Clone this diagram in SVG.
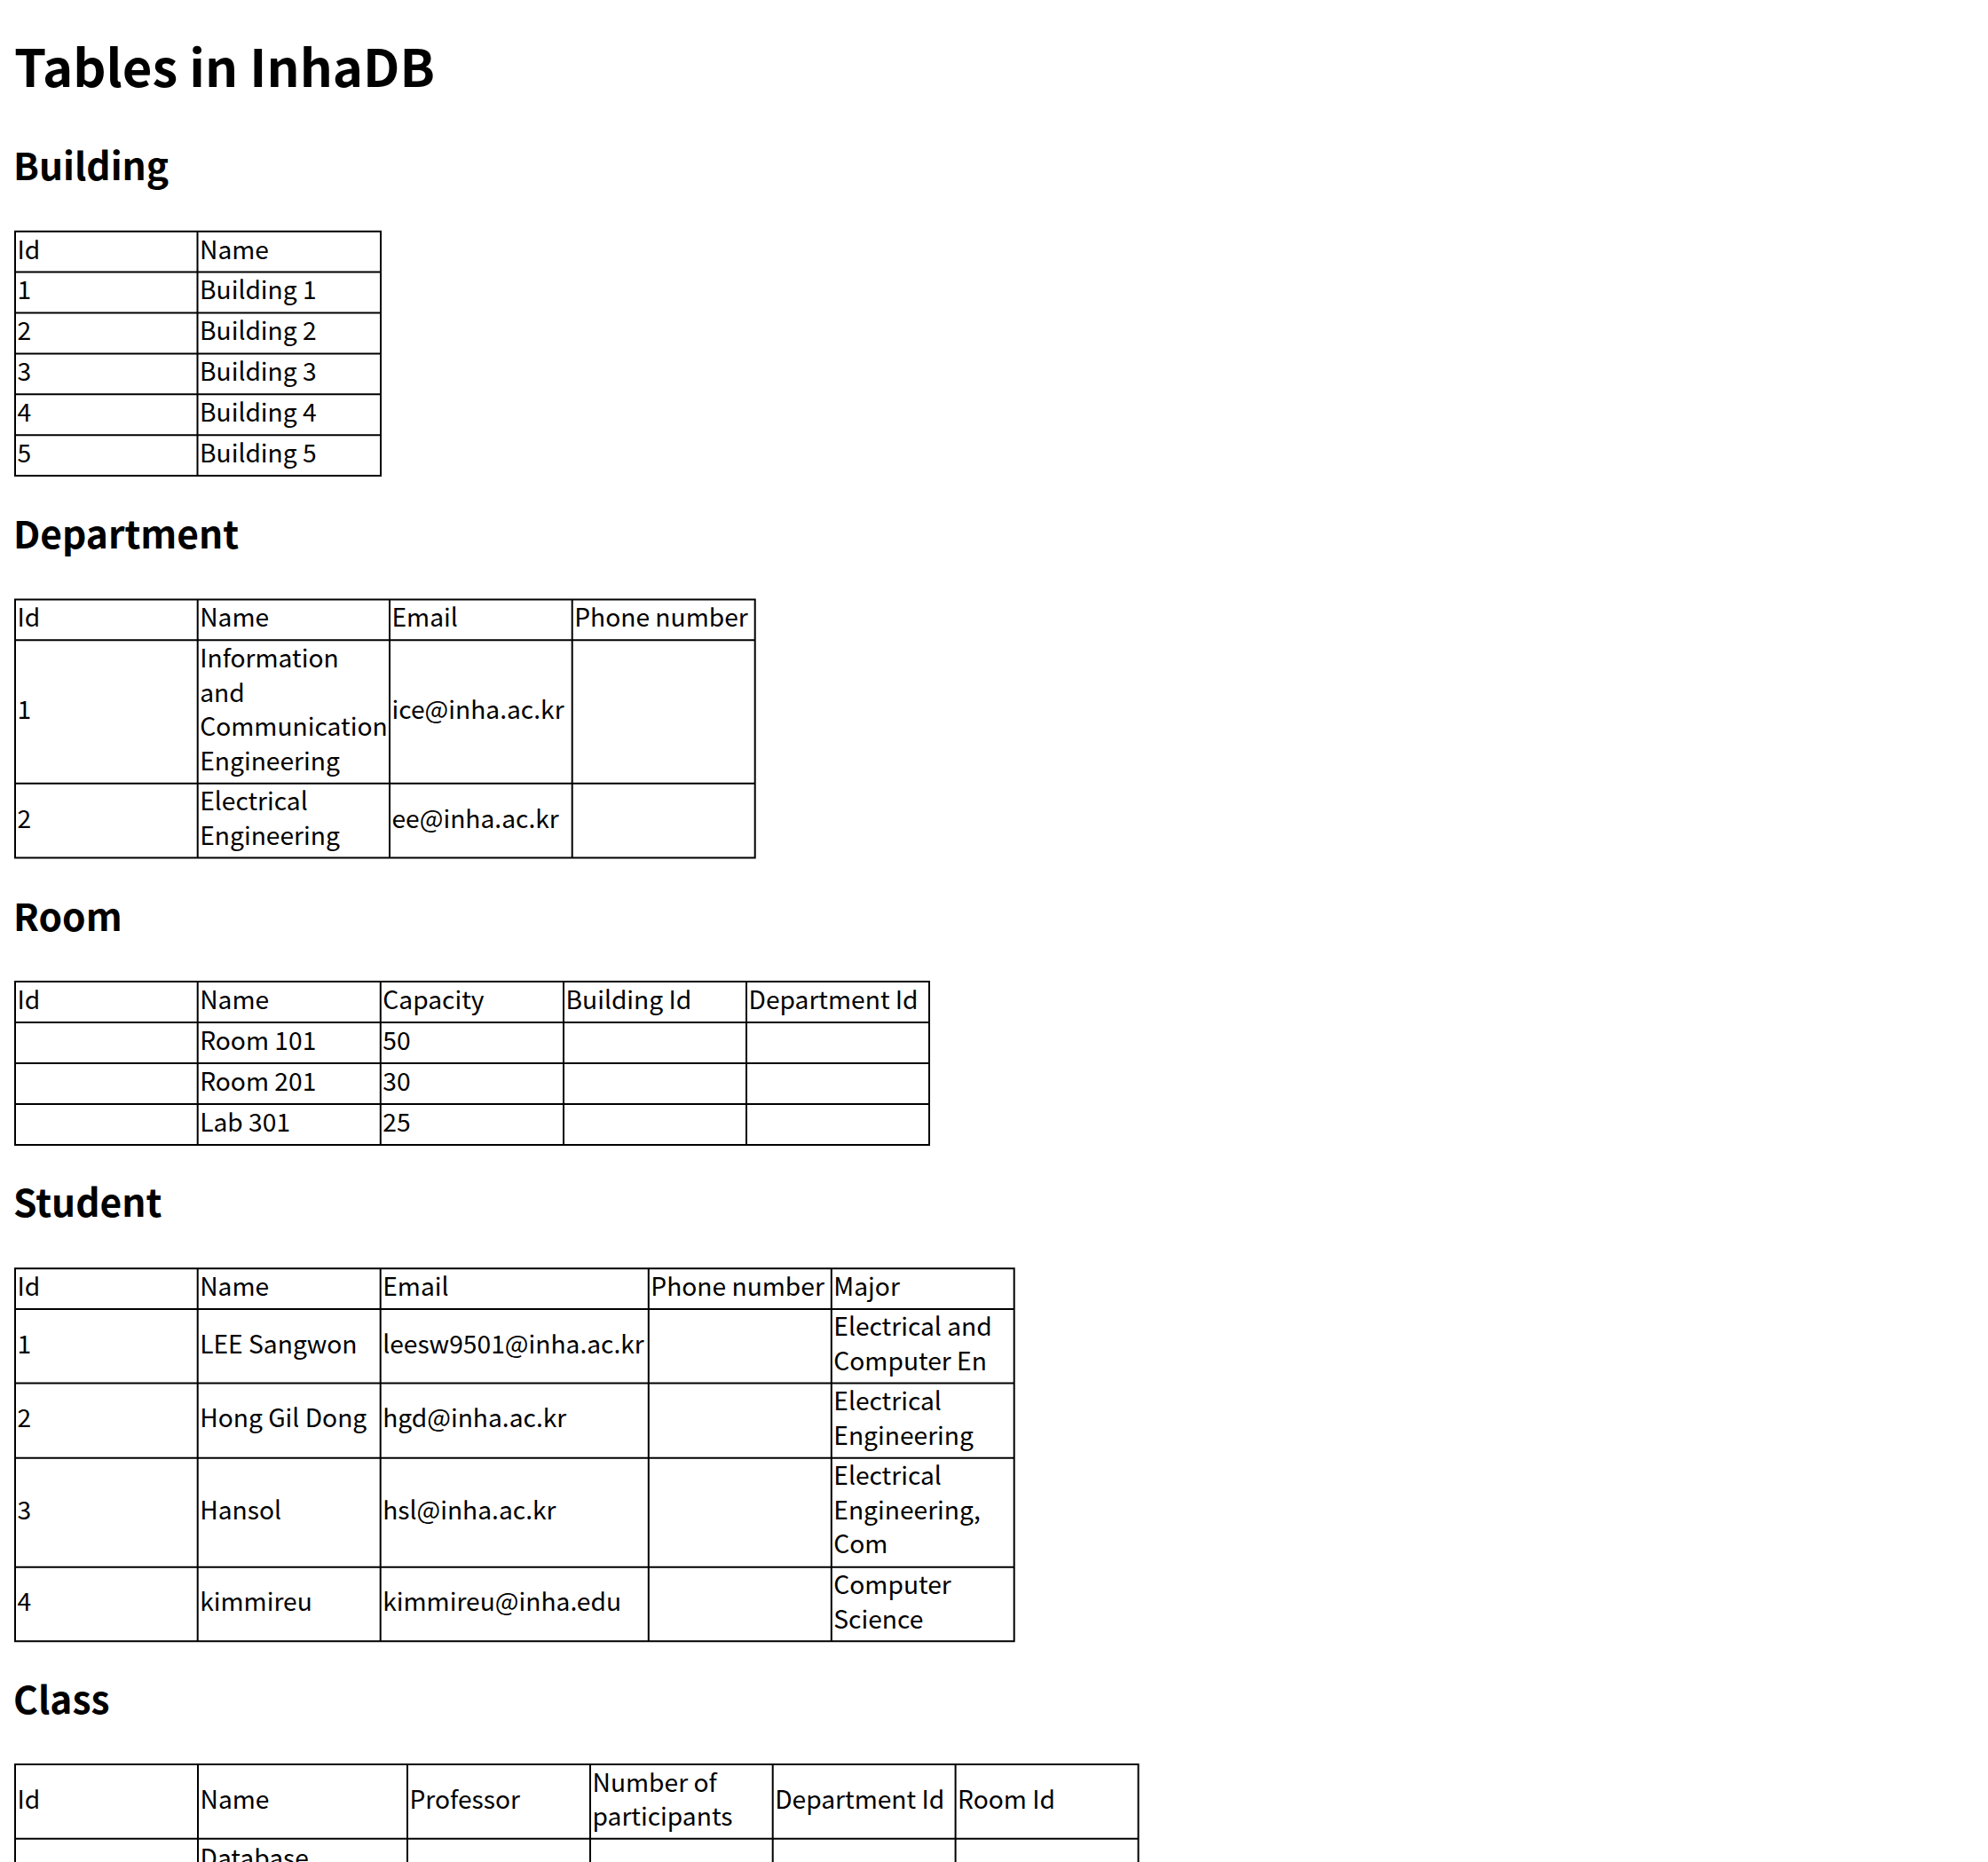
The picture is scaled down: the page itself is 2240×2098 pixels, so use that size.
<svg xmlns="http://www.w3.org/2000/svg" width="2240" height="2098" viewBox="0 0 2240 2098">
<style>
text{font-family:"Noto Sans CJK KR","Noto Sans",sans-serif;fill:#000}
.h1{font-size:58px;font-weight:700}
.h2{font-size:42.5px;font-weight:700}
.c{font-size:28.2px;font-weight:400}
.g{stroke:#000;stroke-width:2;fill:none}
</style>
<rect x="0" y="0" width="2240" height="2098" fill="#fff"/>
<text class="h1" x="16" y="98">Tables in InhaDB</text>

<g id="tbl-building">
<text class="h2" x="15" y="203">Building</text>
<path class="g" d="M17 260.7H429V536.1H17Z M17 306.6H429 M17 352.5H429 M17 398.4H429 M17 444.3H429 M17 490.2H429 M222.5 260.7V536.1"/>
<text class="c" x="19.5" y="291.5">Id</text><text class="c" x="225" y="291.5">Name</text>
<text class="c" x="19.5" y="337.4">1</text><text class="c" x="225" y="337.4">Building 1</text>
<text class="c" x="19.5" y="383.3">2</text><text class="c" x="225" y="383.3">Building 2</text>
<text class="c" x="19.5" y="429.2">3</text><text class="c" x="225" y="429.2">Building 3</text>
<text class="c" x="19.5" y="475.1">4</text><text class="c" x="225" y="475.1">Building 4</text>
<text class="c" x="19.5" y="521">5</text><text class="c" x="225" y="521">Building 5</text>
</g>

<g id="tbl-department">
<text class="h2" x="15" y="618">Department</text>
<path class="g" d="M17 675.6H850.7V966.6H17Z M17 721.3H850.7 M17 882.8H850.7 M222.7 675.6V966.6 M439 675.6V966.6 M644.7 675.6V966.6"/>
<text class="c" x="19.5" y="706.4">Id</text><text class="c" x="225.2" y="706.4">Name</text><text class="c" x="441.5" y="706.4">Email</text><text class="c" x="647.2" y="706.4">Phone number</text>
<text class="c" x="19.5" y="810">1</text>
<text class="c" x="225.2" y="752.2">Information</text>
<text class="c" x="225.2" y="790.7">and</text>
<text class="c" x="225.2" y="829.2">Communication</text>
<text class="c" x="225.2" y="867.7">Engineering</text>
<text class="c" x="441.5" y="810">ice@inha.ac.kr</text>
<text class="c" x="19.5" y="932.5">2</text>
<text class="c" x="225.2" y="913.3">Electrical</text>
<text class="c" x="225.2" y="951.8">Engineering</text>
<text class="c" x="441.5" y="932.5">ee@inha.ac.kr</text>
</g>

<g id="tbl-room">
<text class="h2" x="15" y="1048.5">Room</text>
<path class="g" d="M17 1106H1047V1290H17Z M17 1152H1047 M17 1198H1047 M17 1244H1047 M222.7 1106V1290 M428.8 1106V1290 M635 1106V1290 M841 1106V1290"/>
<text class="c" x="19.5" y="1136.8">Id</text><text class="c" x="225.2" y="1136.8">Name</text><text class="c" x="431.3" y="1136.8">Capacity</text><text class="c" x="637.5" y="1136.8">Building Id</text><text class="c" x="843.5" y="1136.8">Department Id</text>
<text class="c" x="225.2" y="1182.8">Room 101</text><text class="c" x="431.3" y="1182.8">50</text>
<text class="c" x="225.2" y="1228.8">Room 201</text><text class="c" x="431.3" y="1228.8">30</text>
<text class="c" x="225.2" y="1274.8">Lab 301</text><text class="c" x="431.3" y="1274.8">25</text>
</g>

<g id="tbl-student">
<text class="h2" x="15" y="1371">Student</text>
<path class="g" d="M17 1429.3H1142.7V1849.3H17Z M17 1475H1142.7 M17 1558.4H1142.7 M17 1642.8H1142.7 M17 1765.8H1142.7 M222.7 1429.3V1849.3 M428.7 1429.3V1849.3 M730.8 1429.3V1849.3 M936.8 1429.3V1849.3"/>
<text class="c" x="19.5" y="1460.1">Id</text><text class="c" x="225.2" y="1460.1">Name</text><text class="c" x="431.2" y="1460.1">Email</text><text class="c" x="733.3" y="1460.1">Phone number</text><text class="c" x="939.3" y="1460.1">Major</text>
<text class="c" x="19.5" y="1524.5">1</text><text class="c" x="225.2" y="1524.5">LEE Sangwon</text><text class="c" x="431.2" y="1524.5">leesw9501@inha.ac.kr</text>
<text class="c" x="939.3" y="1505.3">Electrical and</text><text class="c" x="939.3" y="1543.8">Computer En</text>
<text class="c" x="19.5" y="1608.4">2</text><text class="c" x="225.2" y="1608.4">Hong Gil Dong</text><text class="c" x="431.2" y="1608.4">hgd@inha.ac.kr</text>
<text class="c" x="939.3" y="1589.2">Electrical</text><text class="c" x="939.3" y="1627.7">Engineering</text>
<text class="c" x="19.5" y="1712.1">3</text><text class="c" x="225.2" y="1712.1">Hansol</text><text class="c" x="431.2" y="1712.1">hsl@inha.ac.kr</text>
<text class="c" x="939.3" y="1673.1">Electrical</text><text class="c" x="939.3" y="1711.6">Engineering,</text><text class="c" x="939.3" y="1750.1">Com</text>
<text class="c" x="19.5" y="1815.4">4</text><text class="c" x="225.2" y="1815.4">kimmireu</text><text class="c" x="431.2" y="1815.4">kimmireu@inha.edu</text>
<text class="c" x="939.3" y="1796.1">Computer</text><text class="c" x="939.3" y="1834.6">Science</text>
</g>

<g id="tbl-class">
<text class="h2" x="15" y="1930.5">Class</text>
<path class="g" d="M17 2110V1988H1282.6V2110 M17 2071.7H1282.6 M223 1988V2110 M459 1988V2110 M665 1988V2110 M870.7 1988V2110 M1076.6 1988V2110"/>
<text class="c" x="19.5" y="2037.7">Id</text><text class="c" x="225.5" y="2037.7">Name</text><text class="c" x="461.5" y="2037.7">Professor</text>
<text class="c" x="667.5" y="2018.5">Number of</text><text class="c" x="667.5" y="2057">participants</text>
<text class="c" x="873.2" y="2037.7">Department Id</text><text class="c" x="1079.1" y="2037.7">Room Id</text>
<text class="c" x="225.5" y="2104">Database</text>
</g>
</svg>
